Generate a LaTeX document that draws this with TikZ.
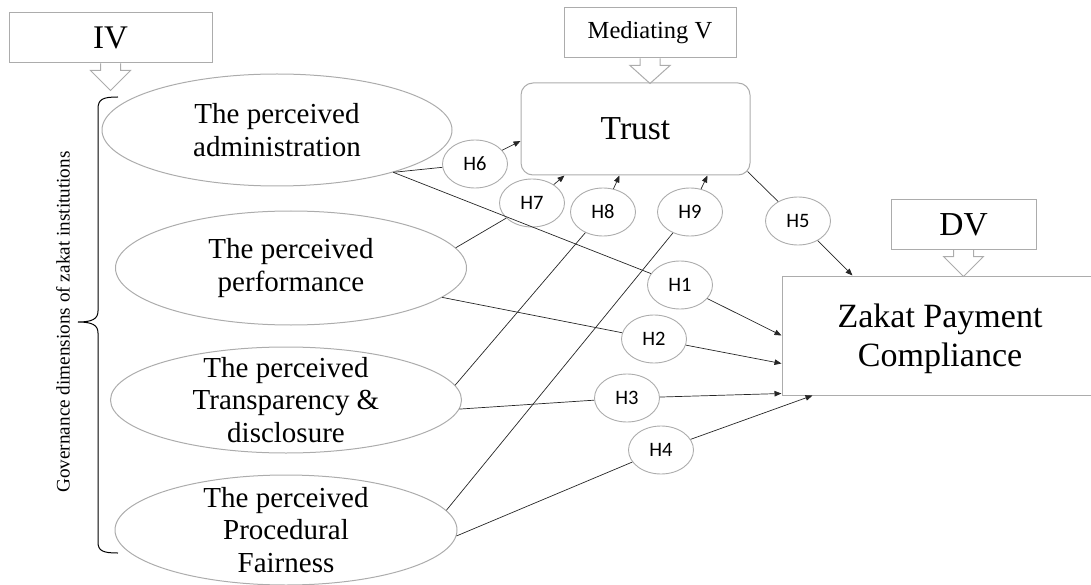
\documentclass[tikz,border=0pt]{standalone}
\usepackage{fontspec}
\setmainfont{Liberation Serif}
\newfontfamily\hfont{Carlito}
\usetikzlibrary{arrows.meta, shapes.geometric, calc}

\tikzset{
  factor/.style={ellipse, draw=gray!65, line width=1pt, minimum width=350, minimum height=112, inner sep=0pt},
  ftext/.style={align=center, inner sep=0pt, font=\fontsize{29}{32.5}\selectfont},
  hyp/.style={ellipse, draw=gray!65, line width=0.9pt, minimum width=65, minimum height=48, inner sep=0pt, font=\hfont\fontsize{20.5}{24}\selectfont},
  tag/.style={rectangle, draw=gray!65, line width=1pt, inner sep=0pt, align=center},
  link/.style={draw=black!85, line width=0.7pt},
  effect/.style={link, -{Triangle[length=7pt, width=5.5pt]}},
  blockarrow/.style={draw=gray!65, line width=1pt}
}

% block arrow below a tag box: #1 box, #2 head length
\newcommand{\tagarrow}[2]{%
  \draw[blockarrow] ($(#1.south)+(-10,0)$) -- ++(0,7) -- ++(-10,0) -- ++(20,#2) -- ++(20,-#2) -- ++(-10,0) -- ++(0,-7);}

\begin{document}
\begin{tikzpicture}[x=1pt, y=-1pt]
  \useasboundingbox (0,0) rectangle (1091,585);

  % Independent variables
  \node[factor, label={[ftext]center:The perceived\\administration}] (admin) at (277,130) {};
  \node[factor, minimum width=351, minimum height=114, label={[ftext]center:The perceived\\performance}] (perf) at (291,268) {};
  \node[factor, minimum width=351, minimum height=106, label={[ftext]center:The perceived\\Transparency \&\\disclosure}] (transp) at (286,400) {};
  \node[factor, minimum width=342, minimum height=110, label={[ftext]center:The perceived\\Procedural\\Fairness}] (fair) at (286,530) {};

  % Mediator and dependent variable
  \node[tag, rounded corners=12pt, minimum width=229, minimum height=92, font=\fontsize{33.5}{38}\selectfont] (trust) at (635.5,129) {Trust};
  \node[tag, minimum width=316, minimum height=119, label={[align=center, inner sep=0pt, yshift=-3pt, font=\fontsize{34}{39}\selectfont]center:Zakat Payment\\Compliance}] (zpc) at (940,335.5) {};

  % Variable tags
  \node[tag, minimum width=203, minimum height=50, font=\fontsize{33}{38}\selectfont] (iv) at (110.5,38) {IV};
  \node[tag, minimum width=172, minimum height=50, font=\fontsize{24.5}{28}\selectfont] (mv) at (650,33) {Mediating V};
  \node[tag, minimum width=145, minimum height=49, font=\fontsize{33.5}{38}\selectfont] (dv) at (963.5,224.5) {DV};
  \tagarrow{iv}{20}
  \tagarrow{mv}{18}
  \tagarrow{dv}{20}

  % Brace and side caption
  \draw[line width=1pt] (118,97) .. controls (103,97) and (98,99) .. (98,109) -- (98,311)
    .. controls (98,319) and (92,322) .. (78,322) .. controls (92,322) and (98,325) .. (98,333)
    -- (98,542) .. controls (98,551) and (103,553) .. (118,553);
  \node[rotate=90, font=\fontsize{19.2}{22}\selectfont] (cap) at (63,322) {Governance dimensions of zakat institutions};

  % Hypotheses
  \foreach \n/\x/\y in {1/680/285, 2/654/339, 3/627/398, 4/661/450, 5/798/221, 6/475/164, 7/532/203, 8/603/212, 9/690/212}
    \node[hyp] (h\n) at (\x,\y) {H\n};

  % Paths to trust
  \draw[link] (admin.-20) -- (h6);
  \draw[effect] (h6) -- ($(trust.west)+(0,12)$);
  \draw[link] (perf.7) -- (h7);
  \draw[effect] (h7) -- ($(trust.south west)+(44,0)$);
  \draw[link] (transp.5) -- (h8);
  \draw[effect] (h8) -- ($(trust.south west)+(99,0)$);
  \draw[link] (fair.7) -- (h9);
  \draw[effect] (h9) -- ($(trust.south west)+(187,0)$);

  % Trust to compliance
  \draw[link] ($(trust.south east)+(-3,-4)$) -- (h5);
  \draw[effect] (h5) -- ($(zpc.north west)+(71,0)$);

  % Direct paths to compliance
  \draw[link] (admin.-20) -- (h1);
  \draw[effect] (h1) -- (zpc.west);
  \draw[link] (perf.-11) -- (h2);
  \draw[effect] (h2) -- ($(zpc.west)+(0,28)$);
  \draw[link] (transp.-3) -- (h3);
  \draw[effect] (h3) -- ($(zpc.south west)+(0,-2)$);
  \draw[link] (fair.-2) -- (h4);
  \draw[effect] (h4) -- ($(zpc.south west)+(31,0)$);
\end{tikzpicture}
\end{document}
